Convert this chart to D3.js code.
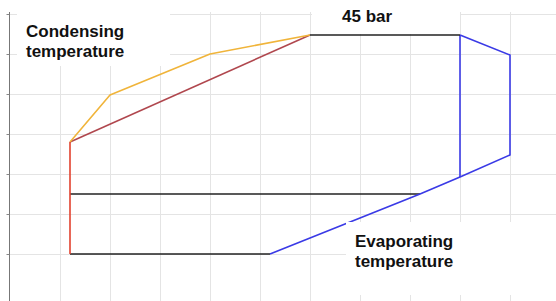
<!DOCTYPE html>
<html>
<head>
<meta charset="utf-8">
<script src="https://cdn.jsdelivr.net/npm/d3@7"></script>
<style>
  body { margin: 0; background: #fff; }
  svg { display: block; }
  .lbl { font-family: "Liberation Sans", Arial, sans-serif; font-weight: bold; font-size: 17px; fill: #111; }
</style>
</head>
<body>
<div id="chart"></div>
<script>
// grid ticks (chart units)
const xTicks = [1, 2, 3, 4, 5, 6, 7, 8, 9, 10];
const yTicks = [1, 2, 3, 4, 5, 6, 7];

// cycle segments, [x, y]
const condensingOrange = [[1.2, 3.8], [2, 4.975], [4, 6], [6, 6.475]];
const condensingBrown = [[1.2, 3.8], [6, 6.475]];
const redVertical = [[1.2, 3.8], [1.2, 1.0]];
const topBlack = [[6, 6.475], [9, 6.475]];
const middleBlack = [[1.2, 2.5], [8.2, 2.5]];
const bottomBlack = [[1.2, 1.0], [5.2, 1.0]];
const blueOuter = [[9, 6.475], [10, 5.975], [10, 3.475], [9, 2.925], [8.2, 2.5], [5.2, 1.0]];
const blueVertical = [[9, 6.475], [9, 2.925]];

const width = 556, height = 301;

const x = d3.scaleLinear().domain([0, 11]).range([10, 560]);
const y = d3.scaleLinear().domain([0, 7]).range([294, 14]);

const svg = d3.select('#chart')
  .append('svg')
  .attr('width', width)
  .attr('height', height);

// grid
svg.append('g')
  .selectAll('line')
  .data(xTicks)
  .enter()
  .append('line')
  .attr('x1', d => x(d) + 0.5).attr('x2', d => x(d) + 0.5)
  .attr('y1', 12).attr('y2', height)
  .attr('stroke', '#e4e4e4');

svg.append('g')
  .selectAll('line')
  .data(yTicks)
  .enter()
  .append('line')
  .attr('x1', 9).attr('x2', width)
  .attr('y1', d => y(d) + 0.5).attr('y2', d => y(d) + 0.5)
  .attr('stroke', '#e4e4e4');

// y axis with small ticks
const yAxis = d3.axisLeft(y).tickValues(yTicks).tickSize(3).tickFormat('');
const ag = svg.append('g').attr('transform', 'translate(9.5,0)').call(yAxis);
ag.select('.domain').attr('d', 'M0,12V' + height).attr('stroke', '#777');
ag.selectAll('.tick line').attr('stroke', '#888');

const line = d3.line().x(d => x(d[0])).y(d => y(d[1]));

function draw(pts, color)
{
  svg.append('path')
    .attr('d', line(pts))
    .attr('fill', 'none')
    .attr('stroke', color)
    .attr('stroke-width', 1.6)
    .attr('stroke-linejoin', 'round');
}

draw(middleBlack, '#222');
draw(bottomBlack, '#222');
draw(blueOuter, '#3a3ae6');
draw(blueVertical, '#3a3ae6');
draw(condensingBrown, '#b0474e');
draw(condensingOrange, '#f0b43a');
draw(redVertical, '#e2412e');
draw(topBlack, '#222');

// labels on white boxes
function label(bx, by, bw, bh, lines, tx, ty)
{
  svg.append('rect')
    .attr('x', bx).attr('y', by).attr('width', bw).attr('height', bh)
    .attr('fill', '#fff');
  const t = svg.append('text').attr('class', 'lbl');
  lines.forEach((s, i) => {
    t.append('tspan').attr('x', tx).attr('y', ty + i * 20).text(s);
  });
}

label(17, 0, 153, 66, ['Condensing', 'temperature'], 26, 37);
label(312, 0, 148, 34, ['45 bar'], 342, 22);
label(346, 222, 210, 73, ['Evaporating', 'temperature'], 355, 247);
</script>
</body>
</html>
